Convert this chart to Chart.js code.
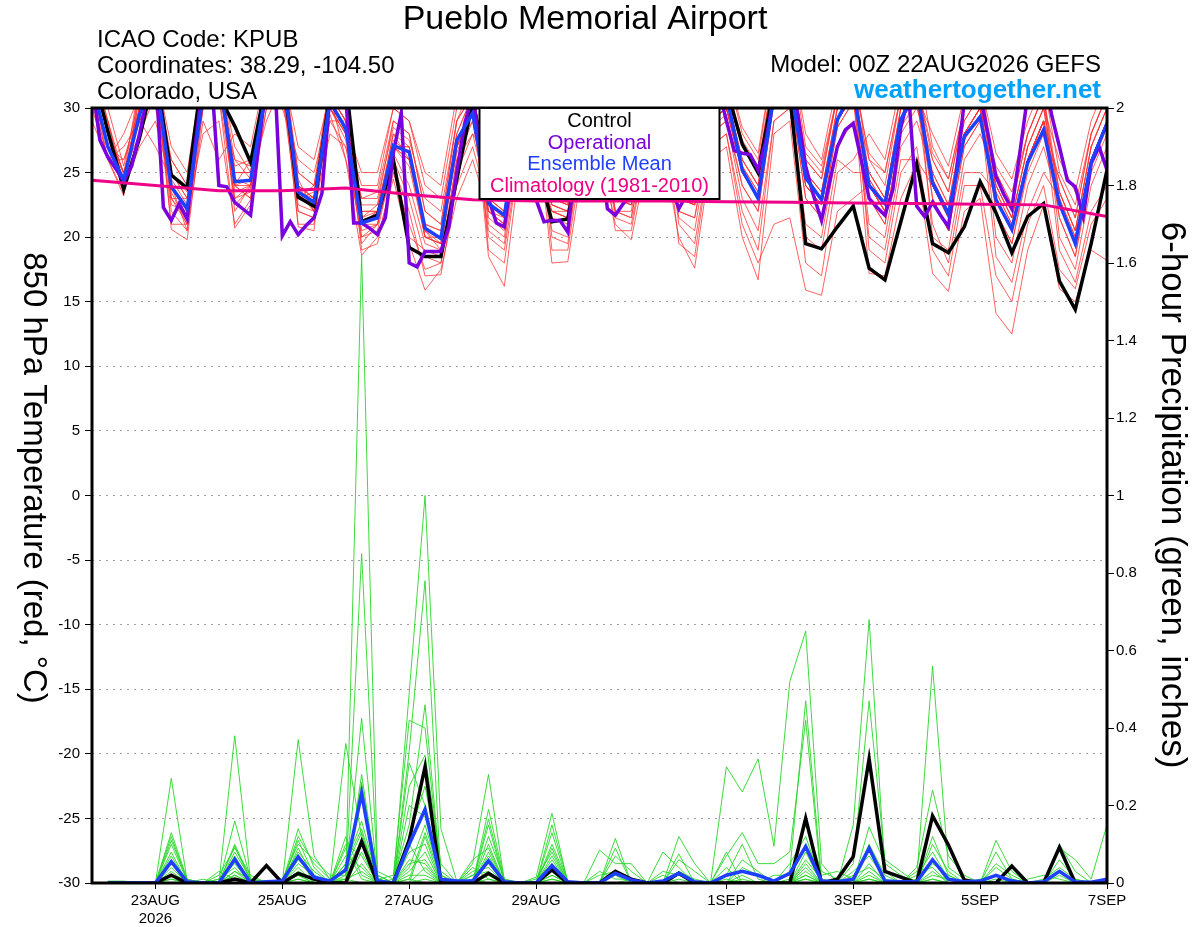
<!DOCTYPE html>
<html>
<head>
<meta charset="utf-8">
<title>Pueblo Memorial Airport - GEFS 850 hPa temperature and 6-hour precipitation</title>
<script src="https://cdn.jsdelivr.net/npm/chart.js@4.4.1/dist/chart.umd.min.js"></script>
<style>
  html, body { margin: 0; padding: 0; background: #fff; }
  canvas { display: block; }
</style>
</head>
<body>
<canvas id="meteogram" width="1200" height="927"></canvas>
<script>
/* KPUB GEFS meteogram: 850 hPa temperature (left axis) and
 * 6-hour precipitation (right axis). Hours are counted from 00Z 22AUG2026.
 */

// time steps (hours)
const STEP_H = 6;          // ensemble, control, mean
const OPER_STEP_H = 3;     // operational run
const CLIMO_STEP_H = 24;   // daily climatology
const PRECIP_START_H = 6;  // first 6-hour accumulation

// x axis ticks
const X_TICK_HOURS = [24, 72, 120, 168, 240, 288, 336, 384];
const X_TICK_LABELS = [["23AUG", "2026"], "25AUG", "27AUG", "29AUG", "1SEP", "3SEP", "5SEP", "7SEP"];

// 850 hPa temperature, degC, every 6 h from 0 h to 384 h
const CONTROL_T = [33,28.2,23.7,27.7,33,24.8,23.8,33,31,28.6,25.8,32,33,23.1,22.4,31,32,21.2,21.7,26.0,
  19.2,18.5,18.5,24.5,30.5,25,24,29,26,21.2,21.4,28,30,25,24,29,30,25,24.5,29,
  31.5,27.2,25.0,31.6,31,19.5,19.1,20.8,22.4,17.6,16.7,21.2,25.7,19.5,18.8,20.8,24.3,21.9,18.8,21.6,
  22.6,16.6,14.4,19.5,25.2];
const MEAN_T = [32,27,24.4,29.5,32.5,23.9,22.2,31,32.5,24.3,24.4,31.5,33,23.5,22.7,30.5,28.4,21.1,21.5,27.1,
  26.6,20.7,19.9,27.5,29.6,22.6,21.7,29.5,27,23.5,23.2,29,29.5,24,23.5,29,29.5,24,23.5,29,
  31,25.2,23.0,31,32,24.6,22.9,29.1,31.5,24.0,22.6,29.1,31.5,24.2,21.8,27.8,29.3,22.9,20.6,25.8,
  28.3,22.6,19.5,25.8,28.8];
// operational, every 3 h from 0 h to 384 h
const OPER_T = [32,27.5,26.2,25.3,24.3,25.5,28,31,33,
  22.3,21.3,22.6,21.4,27,32,33,
  24.0,23.9,22.7,22.2,21.7,27,32,33,
  20.1,21.2,20.2,20.9,21.5,23.4,31,32,
  31,21.1,21.1,20.7,20.2,21.5,26.5,29.6,
  18.0,17.7,18.9,18.9,18.9,20.8,25,28.8,
  31,27,23,21.1,20.8,25,29,31,
  22.9,21.2,21.3,21.3,20.4,26,30,31,
  27,22.2,21.7,22.6,23.4,28,31,31,
  27,24,22.2,23.3,24.5,28,31,31.5,
  29,26.7,26.5,26.4,25.2,27.5,31,33,
  32,29.5,25.5,23.2,21.3,24.2,27,28.3,
  28.8,26,23.0,22.3,21.7,23.7,28.5,31,
  22.4,21.6,22.7,21.7,20.8,25,30.5,32,
  31,28,24.7,23.3,22.2,26.5,31,33,
  33,29.5,27,24.4,23.9,21.6,25.7,27.0,
  25.2];
// 1981-2010 climatology, daily from 22AUG to 7SEP
const CLIMO_T = [24.4,24.0,23.6,23.6,23.8,23.3,22.9,22.8,22.8,22.8,22.75,22.7,22.65,22.6,22.55,22.5,21.6];

// ensemble members, one row per 6-hour time (0 h .. 384 h), 20 members per row
const MEMBER_T_BY_TIME = [
  [32,33,31,34,32,33,31,32,30,33,32,31,34,33,32,30,31,33,32,29],
  [27,28,26,29,27,28,26,27,28,29,26,27,28,30,27,26,29,28,27,26],
  [24,25,23.5,24,26,25,23.2,24.5,25,24,27,24,23.8,25.5,24.2,26,24.8,23.5,25,28],
  [30,29,31,28,30,29,32,30,28,31,29,30,27,31,30,29,32,28,30,31],
  [33,32,34,31,33,27,32,34,33,31,32,33,29,34,32,31,33,32,34,30],
  [26,24,20.6,25,23,24.5,22,24,27,23,21,25,24,22.5,23.5,26,24,25,23,24],
  [24,22,19.8,23,21,22.5,20.5,22,25,21.5,21,23.5,22,22,21,24,22,23,23,20.5],
  [31,32,30,33,31,32,29,31,33,32,30,31,32,28,31,33,32,30,31,32],
  [33,32,34,31,33,32,26,33,34,32,31,33,32,29,33,34,32,31,33,32],
  [25,23,24,20.7,26,24,28,22.5,24,25.5,23,27,24.5,21,25,23.5,24,26,22,24],
  [25,24,23,22.5,25.5,24,27,23.8,24.5,26,23.5,25,24,22.9,25,24,23,24.5,24,26],
  [32,31,33,30,32,31,33,32,29,32,33,31,32,30,33,32,31,32,33,31],
  [33,32,34,32,33,31,33,34,32,33,30,33,32,34,33,31,32,33,34,32],
  [24,22,25,23,27,23.5,20.8,24,22.5,23,26,24.5,21,23,25,22,24,23.5,24,23],
  [23,21.5,24,22.5,26,22,20.5,23,22,23.5,25,22,21,22.5,24,21.5,23,23,22,24],
  [31,30,32,29,31,30,33,29.5,31,32,30,28,31,32,30,31,29,32,31,30],
  [29,28,30,27,29,28.5,31,26,29,30,28,27,29,31,28,26,29,30,28,27.5],
  [22,21,19,23,20.5,25,21,18.6,22.5,21,24,20,21.5,22,19.5,21,23,20,21.5,21],
  [22,21.5,19.5,23.5,21,25,22,20,22.5,21,24,20.5,22,22,21,21.5,23,21,22.5,22],
  [28,27,25,29,26.5,30,27.5,24.5,29,27,30,26,27,28,25.5,27,28.5,26,27,27],
  [27,26.5,21,28,24,29,26.5,19.5,28,26,29,23,27,26,22,25.5,27.5,20,26,27],
  [21,20.5,17.5,22,19.5,25,20,15.9,22,20,24,18.5,20.5,21,17,20,23,19,20.5,20],
  [20.5,19.5,18,21,19,24,19.5,17.5,21,19.5,23,18,20,20.5,17.1,20,22,18.5,19,19.5],
  [28,27.5,25,29,27,31,27,23,29,27,30,26,27,28,24,26.5,29,26,27.5,27],
  [31,30,28,31,29,33,30,26,31,29.5,32,28,30,31,27,30,32,29,30,30],
  [23,22,26,21,22.5,19,24,22,25,20.5,22,23,26,18.5,22.5,24,21.5,22,23,20],
  [22,21,25,20,21.5,18,23,21.5,24,19.5,21,22,25,16.2,21.5,23,20.5,21,22,19],
  [30,29,32,28,29,27,31,29,31,28,29,30,32,26,29,31,28.5,29,30,27],
  [28,27,30,26,27,25,29,27,29,26,27,28,30,24,27,29,26.5,27,28,25],
  [24,22.5,20,23,25,22,18,22.5,26,21.5,23,24,19,22,25,20.5,22,23,22.5,22],
  [23.5,22,19.5,22.5,24.5,21.5,18.1,22,25.5,21,22.5,23.5,19,21.5,24.5,20,21.5,22.5,22,22],
  [31,29,28,30,31,29,26,29,32,28.5,30,31,27,29,31,28,29,30,29,29],
  [32,30,29,31,32,30,27,30,33,29.5,31,32,28,30,32,29,30,31,30,30],
  [25,23.5,21.5,24,25.5,23,21,22,26.5,22,24,23,20.5,23.5,25,22,23,24,23,23],
  [24.5,23,21,23.5,25,22.5,19.8,21.5,26,22,23.5,22.5,20.5,23,25,21.5,22.5,23.5,23,23],
  [31,29,27,30,31,29,26,28,32,28.5,30,29,27,29,31,28,29,30,29,29],
  [32,30,28,31,32,30,27,29,33,29.5,31,30,28,30,32,29,30,31,30,30],
  [24,23,25,21,23.5,26.5,20,23,25.5,22,24,19.5,23.5,26,21.5,23,25,22,23,24],
  [23.5,22.5,24.5,19.5,23,26,17.6,22.5,25,21.5,23.5,18.5,23,25.5,20.5,22.5,24.5,21.5,22.5,23.5],
  [30,29,31,27,29,32,26,29,31,28,30,27,29,32,28,29,31,28.5,29,30],
  [31,30,32,28,30,33,27,30,32,29,31,28,30,33,29,30,32,29.5,30,31],
  [26,25,27,22,25.5,28.5,20,25,27.5,24,26,21,25.5,28,23,25,27,24,25,26],
  [24,23,25,19,23.5,26.5,16.7,23,25.5,22,24,18,23.5,26,20.5,23,25,22,23,24],
  [32,31,33,29,31,34,28,31,33,30.5,32,21,31,34,29,31,33,30.5,31,32],
  [33,32,34,30,32,35,29,32,34,31.5,33,21.5,32,35,30,32,34,31.5,32,33],
  [25,24,26,20,24.5,28,18,24,26.5,23,25,15.9,24.5,27,21,24,26,23,24,25],
  [23.5,22.5,24.5,19,23,26,17,22.5,25,21.5,23.5,15.5,23,25.5,20,22.5,24.5,21.5,22.5,23.5],
  [30,29,31,26,29,32,25,29,31,28.5,30,22,29,31,27,29,31,28.5,29,30],
  [32,31,33,25,31,34,26,31,33,30.5,32,23,31,33,29,31,33,30.5,31,32],
  [24,26,23,25,20,24.5,28,24,19,25,26.5,24,17.2,23,24.5,21,26,24,25,24],
  [22,24,21,23,19,22.5,26,22,18,23,25,22,17,21,22.5,20,25,22,23,22],
  [29,31,28,30,26,29,32,29,25,30,31,29,23,28.5,29,27,31,29,30,29],
  [31,33,30,32,26,31,34,31,27,32,33,31,25.7,30.5,31,29,33,31,32,31],
  [25,24,26,23,24,21,27,24.5,19,26,24,28,17.2,24,23,25,20,24.5,26.5,24],
  [22.5,21.5,23.5,20.5,21.5,18,24.5,22,17,23.5,21.5,25.5,15.8,22,20.5,22.5,19,22,24.5,21.5],
  [29,28,30,27,28,25,30,28,24,30,28,31,22,28,27,29,26,28,30,27.5],
  [31,30,32,29,30,25,32,30,24,32,30,33,23,30,29,31,28,30,31,29.5],
  [23,25,22,24,18.5,23.5,26.5,23,17,24,25.5,23.5,14.1,22,23,20,25,23,24,23],
  [20.5,22.5,19.5,21.5,16.5,21,24.5,20.5,15,21.5,23.5,21,12.5,19.5,20.5,18,22.5,20.5,21.5,20.5],
  [26,28,25,27,22,26,29,26,21,27,28,26,19,25.5,26,24,28,26,27,26],
  [29,31,28,30,25,29,32,29,24,30,31,29,22.5,28.5,29,27,31,29,30,29],
  [23.5,22.5,24.5,21.5,23,19,25,22.5,17.5,26,23.5,22.5,16,23,21.5,22.5,20,24.5,23.5,22.5],
  [20.5,19.5,21.5,18.5,20,16.5,22.5,19.5,16,23.5,20.5,19.5,15,20,18.5,19.5,17.5,21.5,20.5,19.5],
  [27,26,28,25,26,22,28,26,21,29,27,26,19,26,25.5,26,24,28,27,26],
  [30,29,31,28,29,24,31,29,23,32,30,29,18.2,29,28.5,29,27,31,30,29]
];

// 6-hour precipitation, inches, periods ending 6 h .. 384 h
const CONTROL_P = [0,0,0,0,0.02,0,0,0,0.01,0,
  0.045,0,0.025,0.01,0,0,0.107,0,0,0.11,
  0.30,0,0,0,0.025,0,0,0,0.034,0,
  0,0,0.03,0.01,0,0,0.025,0,0,0,
  0,0,0,0,0.167,0,0.01,0.068,0.32,0.03,
  0.015,0,0.173,0.098,0.008,0,0,0.044,0,0,
  0.092,0,0,0];
const MEAN_P = [0,0,0,0,0.055,0.003,0,0,0.061,0,
  0.003,0.005,0.068,0.015,0.005,0.034,0.231,0.005,0,0.10,
  0.19,0.01,0.005,0.005,0.057,0.003,0,0,0.045,0.003,
  0,0,0.025,0.008,0,0.005,0.025,0.003,0,0.02,
  0.03,0.02,0.005,0.025,0.094,0.005,0.003,0.01,0.09,0.005,
  0.003,0.003,0.06,0.01,0.003,0.005,0.02,0.005,0,0.003,
  0.03,0.003,0.002,0.01];
// members per 6-hour period; members not listed in a row had no precipitation
const MEMBER_P_BY_TIME = [
  [0,0,0,0,0,0,0.005],
  [0,0,0,0,0,0,0.005],
  [],
  [],
  [0.11,0,0.27,0.02,0.13,0,0.07,0.01,0.12,0.04,0,0.1,0.02,0.08,0,0.05,0.01,0.03],
  [0.01,0,0.005,0,0.01,0,0,0,0.005,0,0,0.005],
  [0,0,0,0,0,0,0,0,0,0,0.01],
  [0,0.02,0,0,0.03,0,0.01,0,0,0,0,0,0,0.01],
  [0.03,0.09,0.06,0.16,0.01,0.38,0.04,0.1,0,0.07,0.02,0.095,0.03,0.05,0.08,0,0.01,0,0.02],
  [0.01,0.02,0,0.01,0,0.005,0,0.01,0,0,0,0.005,0,0,0.01],
  [0,0,0,0.005,0,0,0.005],
  [0,0,0.01,0,0,0.01,0,0,0,0,0,0.005],
  [0.06,0.02,0.1,0.04,0.37,0.08,0.01,0.12,0.03,0.14,0.05,0.02,0.09,0.11,0.07,0,0.01,0,0,0.02],
  [0.02,0.01,0.06,0,0.07,0.03,0,0.05,0.01,0.04,0.02,0,0.01,0.02],
  [0,0,0.02,0,0.01,0,0,0.01,0,0,0,0,0,0,0.01],
  [0.05,0.36,0.02,0.1,0,0.07,0.01,0.03,0.12,0,0.04,0.09,0.02,0,0.01,0.03,0,0.05,0,0.01],
  [0.16,0.12,1.62,0.07,0.28,0.04,0.85,0.1,0.02,0.26,0.13,0.01,0.425,0.08,0.03,0.11,0.05,0.14],
  [0.01,0.02,0.03,0,0.01,0,0.02,0.01,0,0.01,0,0,0.01,0,0,0.01],
  [0,0,0.01,0,0,0,0,0.02,0,0,0,0,0,0.01],
  [0.2,0.06,0.12,0.49,0.03,0.25,0.1,0.42,0.01,0.08,0.34,0.05,0.02,0.15,0.31,0.04,0,0,0,0.01],
  [0.17,0.05,0.25,1.0,0.08,0.33,0.03,0.4,0.13,0.1,0.78,0.06,0.02,0.46,0.2,0.15,0.12,0.01,0.04],
  [0.01,0,0.03,0.14,0,0.05,0,0.02,0.01,0,0.01,0,0,0.02,0,0.01],
  [0,0,0,0.005,0,0,0,0,0,0,0.005],
  [0.02,0,0.05,0,0.06,0.01,0,0.03,0,0.04,0,0,0.02,0,0.01],
  [0.05,0.12,0.28,0.02,0.09,0,0.19,0.04,0.165,0.01,0.07,0.15,0.03,0.1,0.06,0.08,0,0.02,0.01],
  [0,0.01,0.005,0,0,0,0.01,0,0.005],
  [],
  [0,0,0,0.015,0,0,0,0,0.01],
  [0.04,0.1,0.01,0.18,0.06,0.02,0.15,0,0.08,0.03,0.13,0.05,0.09,0.01,0.07,0,0,0,0.02],
  [0,0.005,0,0,0,0,0.005],
  [],
  [0,0,0,0,0.085,0,0,0.03,0,0,0,0.02],
  [0.02,0,0.07,0,0.05,0,0.115,0.01,0,0.09,0,0.03],
  [0,0.01,0.03,0,0.05,0,0,0.01],
  [],
  [0,0,0,0,0,0,0,0,0.08,0,0.03,0,0,0.02],
  [0.03,0.12,0,0.06,0,0.01,0.075,0,0.04,0,0.02],
  [0.01,0.05,0,0.03],
  [],
  [0,0,0,0.02,0.3,0,0.07,0,0.01,0,0,0.08,0,0.04],
  [0.02,0,0.06,0.1,0.235,0,0.13,0.01,0,0.04],
  [0,0,0.03,0.01,0.32,0,0.05,0,0,0.02],
  [0,0.02,0,0,0.095,0,0.05],
  [0,0.02,0.03,0,0.52,0.01,0.08,0,0,0.05],
  [0.04,0.15,0.47,0.02,0.65,0.1,0.42,0.03,0.06,0.12,0.01,0.08,0.05,0,0.02,0,0.01],
  [0,0.03,0.01,0,0.05,0.02,0,0,0.01],
  [0,0.01,0,0,0,0.03],
  [0.02,0,0.15,0,0.05,0.01,0,0.03],
  [0.04,0.145,0.68,0.01,0.47,0.1,0.02,0.07,0.03,0.05,0,0.085,0.01],
  [0.01,0.05,0.03,0,0.06,0.02,0,0.01],
  [0,0.02,0,0,0.03],
  [0,0,0.04,0,0,0.01,0.03,0,0.02],
  [0.05,0.02,0.24,0.1,0.01,0.56,0.04,0.12,0.08,0,0.06,0.03,0.01],
  [0.02,0.01,0.07,0.03,0,0.04,0,0.02,0.01],
  [0,0,0.02,0,0,0.01],
  [0,0,0,0,0.01,0,0,0,0,0.005],
  [0.05,0,0.11,0,0.02,0.08,0,0.04,0.01],
  [0.02,0,0.03,0,0,0.01,0,0.01],
  [0,0,0,0.01],
  [0,0.01,0,0.02],
  [0.02,0.04,0.1,0.01,0.09,0.03,0.06],
  [0,0.01,0.03,0,0.06,0,0.01],
  [0,0,0,0,0.01],
  [0,0,0,0,0.15,0,0.01]
];
const N_MEMBERS = 20;

const COLORS = {
  control: "#000000",
  oper: "#7a00dd",
  mean: "#1f3fff",
  climo: "#ee0088",
  member: "rgba(255,45,45,0.75)",
  memberP: "rgba(40,215,40,0.9)",
};
const LEGEND_ITEMS = [
  { text: "Control", color: COLORS.control },
  { text: "Operational", color: COLORS.oper },
  { text: "Ensemble Mean", color: COLORS.mean },
  { text: "Climatology (1981-2010)", color: COLORS.climo },
];

const FONT = '"Liberation Sans", Arial, Helvetica, sans-serif';

function pts(values, step, start) {
  return values.map((v, k) => ({ x: (start || 0) + k * step, y: v }));
}

function line(data, color, width, axis, order) {
  return { data, borderColor: color, borderWidth: width, yAxisID: axis, order,
           pointRadius: 0, tension: 0, fill: false };
}

const datasets = [
  line(pts(CLIMO_T, CLIMO_STEP_H), COLORS.climo, 3, "y", 0),
  line(pts(MEAN_T, STEP_H), COLORS.mean, 3.5, "y", 1),
  line(pts(OPER_T, OPER_STEP_H), COLORS.oper, 3.5, "y", 2),
  line(pts(CONTROL_T, STEP_H), COLORS.control, 3.5, "y", 3),
  line(pts(MEAN_P, STEP_H, PRECIP_START_H), COLORS.mean, 3.5, "y1", 4),
  line(pts(CONTROL_P, STEP_H, PRECIP_START_H), COLORS.control, 3.5, "y1", 5),
];
for (let m = 0; m < N_MEMBERS; m++) {
  const t = MEMBER_T_BY_TIME.map(row => row[m]);
  datasets.push(line(pts(t, STEP_H), COLORS.member, 1, "y", 6));
}
for (let m = 0; m < N_MEMBERS; m++) {
  const p = MEMBER_P_BY_TIME.map(row => (row[m] === undefined ? 0 : row[m]));
  datasets.push(line(pts(p, STEP_H, PRECIP_START_H), COLORS.memberP, 1, "y1", 7));
}

function text(ctx, s, x, y, font, color, align) {
  ctx.font = font;
  ctx.fillStyle = color;
  ctx.textAlign = align;
  ctx.textBaseline = "alphabetic";
  ctx.fillText(s, x, y);
}

const decorations = {
  id: "decorations",
  afterDatasetsDraw(chart) {
    const { ctx, chartArea: a } = chart;
    ctx.save();
    ctx.strokeStyle = "#000";
    ctx.lineWidth = 3;
    ctx.strokeRect(a.left, a.top, a.right - a.left, a.bottom - a.top);

    // legend box sits on the top edge of the plot
    const cx = (a.left + a.right) / 2;
    const w = 240, h = 91;
    ctx.fillStyle = "#fff";
    ctx.fillRect(cx - w / 2, a.top, w, h);
    ctx.lineWidth = 2;
    ctx.strokeRect(cx - w / 2, a.top, w, h);
    ctx.font = "20px " + FONT;
    ctx.textAlign = "center";
    ctx.textBaseline = "middle";
    LEGEND_ITEMS.forEach((it, k) => {
      ctx.fillStyle = it.color;
      ctx.fillText(it.text, cx, a.top + 13.5 + k * 21.7);
    });
    ctx.restore();
  },
  afterDraw(chart) {
    const { ctx } = chart;
    ctx.save();
    text(ctx, "Pueblo Memorial Airport", 585, 29, "34px " + FONT, "#000", "center");
    text(ctx, "ICAO Code: KPUB", 97, 47, "24px " + FONT, "#000", "left");
    text(ctx, "Coordinates: 38.29, -104.50", 97, 73, "24px " + FONT, "#000", "left");
    text(ctx, "Colorado, USA", 97, 99, "24px " + FONT, "#000", "left");
    text(ctx, "Model: 00Z 22AUG2026 GEFS", 1101, 72, "24px " + FONT, "#000", "right");
    text(ctx, "weathertogether.net", 1101, 98, "bold 26px " + FONT, "#00a0ff", "right");

    // axis titles, both read top to bottom
    const titles = [
      { s: "850 hPa Temperature (red, \u00B0C)", x: 33, y: 478, size: 33 },
      { s: "6-hour Precipitation (green, inches)", x: 1172, y: 495, size: 35 },
    ];
    titles.forEach(t => {
      ctx.save();
      ctx.translate(t.x, t.y);
      ctx.rotate(Math.PI / 2);
      ctx.font = t.size + "px " + FONT;
      ctx.fillStyle = "#000";
      ctx.textAlign = "center";
      ctx.textBaseline = "middle";
      ctx.fillText(t.s, 0, 0);
      ctx.restore();
    });
    ctx.restore();
  },
};

const tickFont = { family: FONT, size: 15 };

new Chart(document.getElementById("meteogram"), {
  type: "line",
  data: { datasets },
  options: {
    responsive: false,
    animation: false,
    events: [],
    layout: { padding: { top: 108, left: 0, right: 0, bottom: 0 } },
    plugins: { legend: { display: false }, tooltip: { enabled: false } },
    elements: { line: { borderJoinStyle: "miter" } },
    scales: {
      x: {
        type: "linear",
        min: 0,
        max: 384,
        afterBuildTicks: s => { s.ticks = X_TICK_HOURS.map(v => ({ value: v })); },
        afterFit: s => { s.height = 44; },
        ticks: {
          autoSkip: false, maxRotation: 0, color: "#000", font: tickFont, padding: 3,
          callback: v => X_TICK_LABELS[X_TICK_HOURS.indexOf(v)],
        },
        grid: { drawOnChartArea: false, tickLength: 6, color: "#000", tickWidth: 1 },
        border: { display: false },
      },
      y: {
        position: "left",
        min: -30,
        max: 30,
        afterFit: s => { s.width = 92; },
        ticks: { stepSize: 5, color: "#000", font: tickFont, padding: 5 },
        grid: { color: "#a0a0a0", lineWidth: 1, tickColor: "#000", tickLength: 7, tickBorderDash: [] },
        border: { display: false, dash: [2, 5] },
      },
      y1: {
        position: "right",
        min: 0,
        max: 2,
        afterFit: s => { s.width = 93; },
        ticks: { stepSize: 0.2, color: "#000", font: tickFont, padding: 2,
                 callback: v => String(Math.round(v * 10) / 10) },
        grid: { drawOnChartArea: false, tickLength: 7, color: "#000" },
        border: { display: false },
      },
    },
  },
  plugins: [decorations],
});
</script>
</body>
</html>
